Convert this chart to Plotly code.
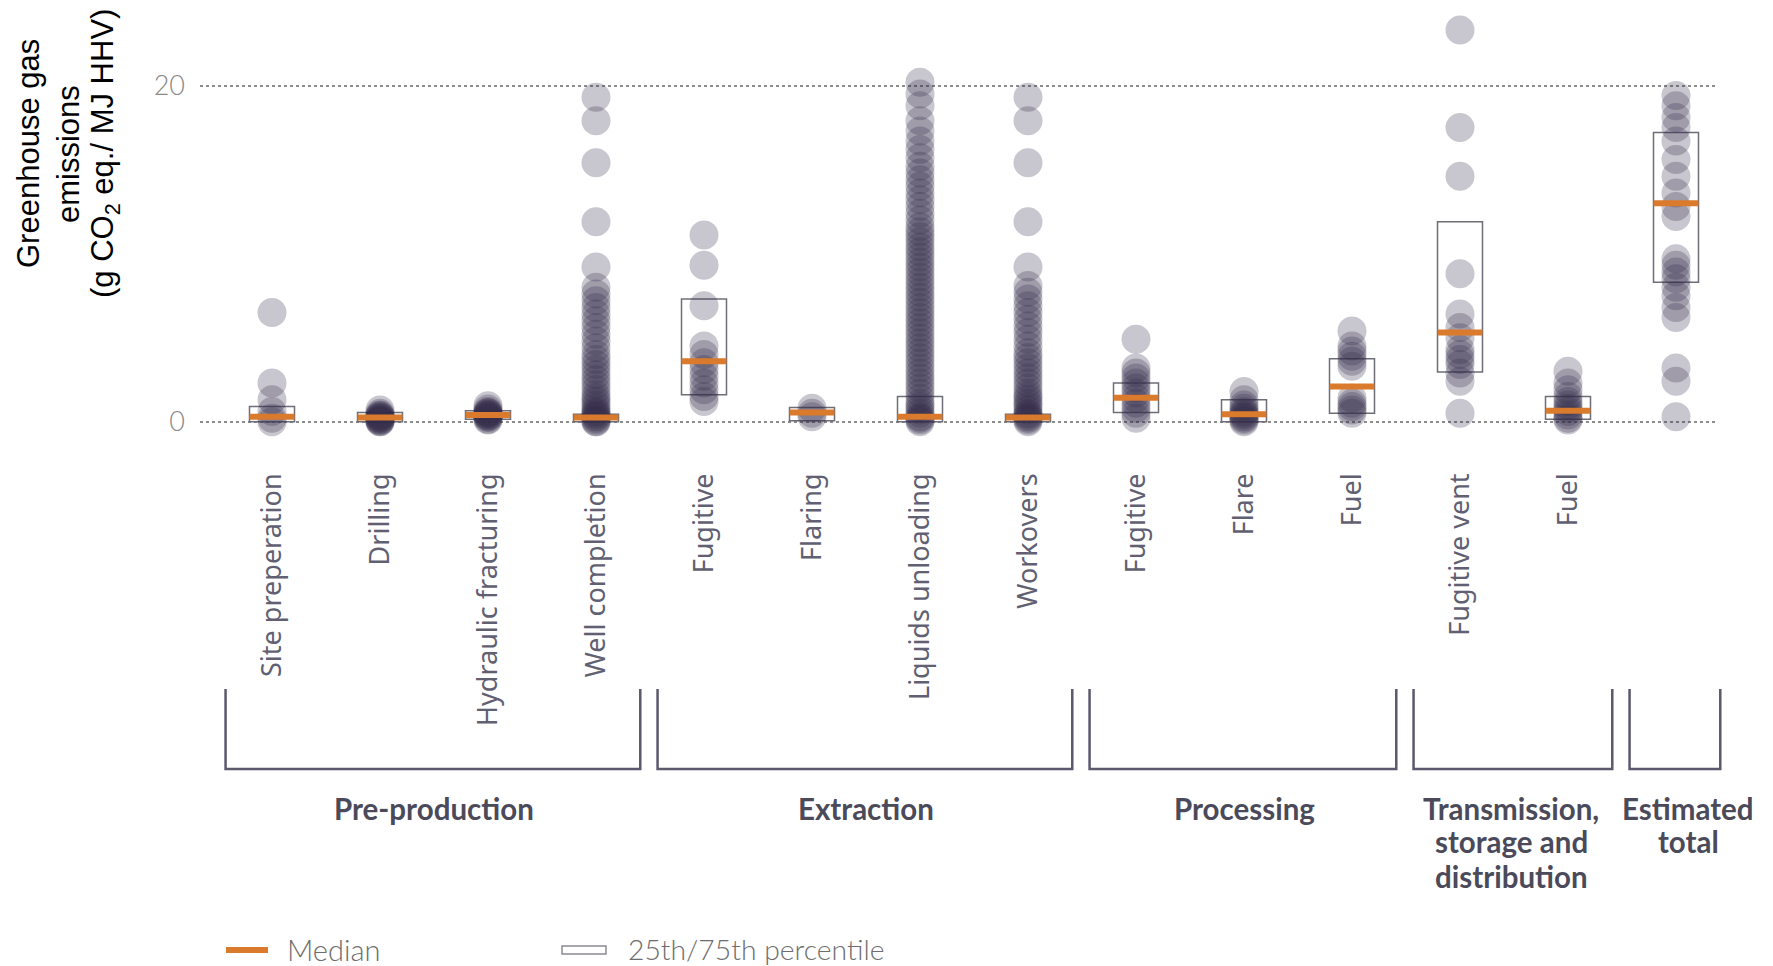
import plotly.graph_objects as go

# ---- data -----------------------------------------------------------------
categories = ["Site preperation", "Drilling", "Hydraulic fracturing", "Well completion",
              "Fugitive", "Flaring", "Liquids unloading", "Workovers",
              "Fugitive", "Flare", "Fuel", "Fugitive vent", "Fuel", ""]

site_preparation = [6.5, 2.3, 1.3, 0.6, 0.2, 0.0]
drilling = [0.7, 0.5, 0.4, 0.35, 0.3, 0.25, 0.2, 0.15, 0.1, 0.05, 0.0, 0.0]
hydraulic_fracturing = [0.95, 0.75, 0.6, 0.55, 0.5, 0.45, 0.4, 0.35, 0.3, 0.25, 0.15, 0.1]
well_completion = [19.3, 17.9, 15.4, 11.9, 9.2, 8.0, 7.6, 7.2, 6.8, 6.4, 6.0, 5.6, 5.2,
                   4.8, 4.4, 4.0, 3.7, 3.4, 3.1, 2.8, 2.5, 2.2, 1.9, 1.6, 1.4, 1.2, 1.0,
                   0.8, 0.6, 0.5, 0.4, 0.3, 0.2, 0.1, 0.0, 0.0]
fugitive_extraction = [11.1, 9.3, 6.9, 4.5, 4.0, 3.5, 3.1, 2.7, 2.3, 1.9, 1.5, 1.2]
flaring = [0.8, 0.5, 0.3]
liquids_unloading = [20.2, 19.5, 18.8, 17.9, 17.3, 16.7, 16.2, 15.7, 15.2, 14.8, 14.4,
                     14.0, 13.6, 13.2, 12.8, 12.4, 12.0, 11.6, 11.3, 11.0, 10.7, 10.4,
                     10.1, 9.8, 9.5, 9.2, 8.9, 8.6, 8.3, 8.0, 7.7, 7.4, 7.1, 6.8, 6.5,
                     6.2, 5.9, 5.6, 5.3, 5.0, 4.7, 4.4, 4.1, 3.8, 3.5, 3.2, 2.9, 2.6,
                     2.3, 2.0, 1.7, 1.4, 1.1, 0.9, 0.7, 0.5, 0.3, 0.2, 0.1, 0.0]
workovers = [19.3, 17.9, 15.4, 11.9, 9.2, 8.1, 7.7, 7.3, 6.9, 6.5, 6.1, 5.7, 5.3, 4.9,
             4.5, 4.1, 3.8, 3.5, 3.2, 2.9, 2.6, 2.3, 2.0, 1.7, 1.5, 1.3, 1.1, 0.9, 0.7,
             0.5, 0.4, 0.3, 0.2, 0.1, 0.0]
fugitive_processing = [4.9, 3.2, 2.9, 2.6, 2.3, 2.0, 1.7, 1.4, 1.1, 0.8, 0.5, 0.2]
flare_processing = [1.8, 1.3, 1.0, 0.8, 0.6, 0.5, 0.4, 0.3, 0.2, 0.1, 0.0]
fuel_processing = [5.4, 4.5, 4.2, 3.9, 3.6, 3.3, 1.4, 1.1, 0.9, 0.7, 0.5]
fugitive_vent = [23.3, 17.5, 14.6, 8.8, 6.4, 5.6, 5.0, 4.3, 4.0, 3.7, 3.4, 2.9, 2.4, 0.5]
fuel_transmission = [3.0, 2.3, 1.9, 1.5, 1.2, 1.0, 0.8, 0.6, 0.4, 0.2, 0.1]
estimated_total = [19.4, 18.8, 18.1, 17.5, 16.7, 15.6, 14.6, 13.6, 12.8, 12.2, 9.7, 9.3,
                   8.9, 8.5, 8.0, 7.5, 6.8, 6.2, 3.2, 2.4, 0.3]

emissions = [site_preparation, drilling, hydraulic_fracturing, well_completion,
             fugitive_extraction, flaring, liquids_unloading, workovers,
             fugitive_processing, flare_processing, fuel_processing,
             fugitive_vent, fuel_transmission, estimated_total]

p25 = [0.0, 0.0, 0.15, 0.0, 1.6, 0.05, 0.0, 0.0, 0.55, 0.0, 0.5, 2.95, 0.15, 8.3]
p75 = [0.9, 0.55, 0.65, 0.45, 7.3, 0.85, 1.5, 0.45, 2.3, 1.3, 3.75, 11.9, 1.5, 17.2]
median = [0.3, 0.25, 0.4, 0.25, 3.6, 0.55, 0.3, 0.25, 1.43, 0.44, 2.1, 5.3, 0.65, 13.0]

groups = [["Pre-production"], ["Extraction"], ["Processing"],
          ["Transmission,", "storage and", "distribution"], ["Estimated", "total"]]
group_first = [0, 4, 8, 11, 13]
group_last = [3, 7, 10, 12, 13]

y_ticks = [0, 20]
y_title_lines = ["Greenhouse gas", "emissions", "(g CO<sub>2</sub> eq./ MJ HHV)"]

# ---- layout geometry (pixels) ----------------------------------------------
W, H = 1773, 966
PLOT_L, PLOT_R, PLOT_T, PLOT_B = 200, 1718, 0, 466
X0_PX, STEP_PX = 272, 108          # pixel of first category, spacing
Y0_PX, PX_PER_UNIT = 421.7, 16.81  # pixel of y = 0, pixels per unit

x_range = [(PLOT_L - X0_PX) / STEP_PX, (PLOT_R - X0_PX) / STEP_PX]
y_range = [(Y0_PX - PLOT_B) / PX_PER_UNIT, (Y0_PX - PLOT_T) / PX_PER_UNIT]


def paper_x(idx):
    return (X0_PX + idx * STEP_PX - PLOT_L) / (PLOT_R - PLOT_L)


def px_x(px):
    return (px - PLOT_L) / (PLOT_R - PLOT_L)


def px_y(px):
    return (PLOT_B - px) / (PLOT_B - PLOT_T)


BOX_W = 45 / STEP_PX
ORANGE = "#da7a2c"
INK = "#5b596d"

# ---- traces --------------------------------------------------------------
xs, ys = [], []
for i, vals in enumerate(emissions):
    xs += [i] * len(vals)
    ys += vals

fig = go.Figure()

fig.add_trace(go.Bar(
    x=list(range(len(categories))), y=[hi - lo for lo, hi in zip(p25, p75)], base=p25,
    width=BOX_W, marker=dict(color="rgba(0,0,0,0)",
                             line=dict(color="#6e6d78", width=1.5)),
    showlegend=False, hoverinfo="skip"))

fig.add_trace(go.Scatter(
    x=xs, y=ys, mode="markers", cliponaxis=False,
    marker=dict(size=29, color="rgba(50,45,75,0.27)", line=dict(width=0)),
    showlegend=False))

fig.add_trace(go.Scatter(
    x=list(range(len(categories))), y=median, mode="markers", cliponaxis=False,
    marker=dict(symbol="line-ew", size=32, color=ORANGE,
                line=dict(color=ORANGE, width=6)),
    showlegend=False))

# ---- group brackets and labels ----------------------------------------------
shapes = []
annotations = []
top_px, bot_px = 689, 769
line_px = [808, 842, 876]
label_shift = [0, 0, 0, -3, 12]
for lines, a, b, dx in zip(groups, group_first, group_last, label_shift):
    xl, xr = paper_x(a - 0.43), paper_x(b + 0.41)
    yt, yb = px_y(top_px), px_y(bot_px)
    shapes.append(dict(type="path", xref="paper", yref="paper",
                       path=f"M {xl},{yt} L {xl},{yb} L {xr},{yb} L {xr},{yt}",
                       line=dict(color=INK, width=2.5)))
    for text, ly in zip(lines, line_px):
        annotations.append(dict(
            x=paper_x((a + b) / 2), y=px_y(ly), xref="paper", yref="paper", xshift=dx,
            text=f"<b>{text}</b>", showarrow=False, xanchor="center", yanchor="middle",
            font=dict(family="Lato", size=29.5, color="#4b4a5a")))

# y-axis title, one annotation per line
for line, cx in zip(y_title_lines, [28, 68, 105]):
    annotations.append(dict(
        x=px_x(cx), y=px_y(154), xref="paper", yref="paper", textangle=-90,
        text=line, showarrow=False, xanchor="center", yanchor="middle",
        font=dict(family="Liberation Sans", size=31, color="#000000")))

# legend
shapes.append(dict(type="line", xref="paper", yref="paper",
                   x0=px_x(226), x1=px_x(268), y0=px_y(950), y1=px_y(950),
                   line=dict(color=ORANGE, width=6)))
shapes.append(dict(type="rect", xref="paper", yref="paper",
                   x0=px_x(562), x1=px_x(606), y0=px_y(954), y1=px_y(946),
                   line=dict(color="#8a8a94", width=1.5)))
annotations.append(dict(x=px_x(285), y=px_y(949), xref="paper", yref="paper",
                        text="Median", showarrow=False, xanchor="left", yanchor="middle",
                        font=dict(family="Lato", size=29, color="#6d6d6d", weight=300)))
annotations.append(dict(x=px_x(626), y=px_y(949), xref="paper", yref="paper",
                        text="25th/75th percentile", showarrow=False, xanchor="left",
                        yanchor="middle",
                        font=dict(family="Lato", size=28.3, color="#6d6d6d", weight=300)))

fig.update_layout(
    width=W, height=H,
    margin=dict(l=PLOT_L, r=W - PLOT_R, t=PLOT_T, b=H - PLOT_B, pad=0),
    paper_bgcolor="white", plot_bgcolor="white",
    shapes=shapes, annotations=annotations, barmode="overlay",
    xaxis=dict(range=x_range, tickmode="array", tickvals=list(range(13)),
               ticktext=categories[:13], tickangle=-90, showgrid=False,
               zeroline=False, showline=False, ticks="", ticklabelstandoff=1,
               tickfont=dict(family="Noto Sans", size=27, color="#606072")),
    yaxis=dict(range=y_range, tickmode="array", tickvals=y_ticks,
               ticktext=[str(v) for v in y_ticks], showgrid=True, griddash="dot",
               gridcolor="#8c8c8c", gridwidth=1.5, zeroline=False, showline=False,
               ticks="", ticklabelstandoff=14,
               tickfont=dict(family="Lato", size=27, color="#8a8a8a", weight=300)),
)

fig.write_html("out.html")
